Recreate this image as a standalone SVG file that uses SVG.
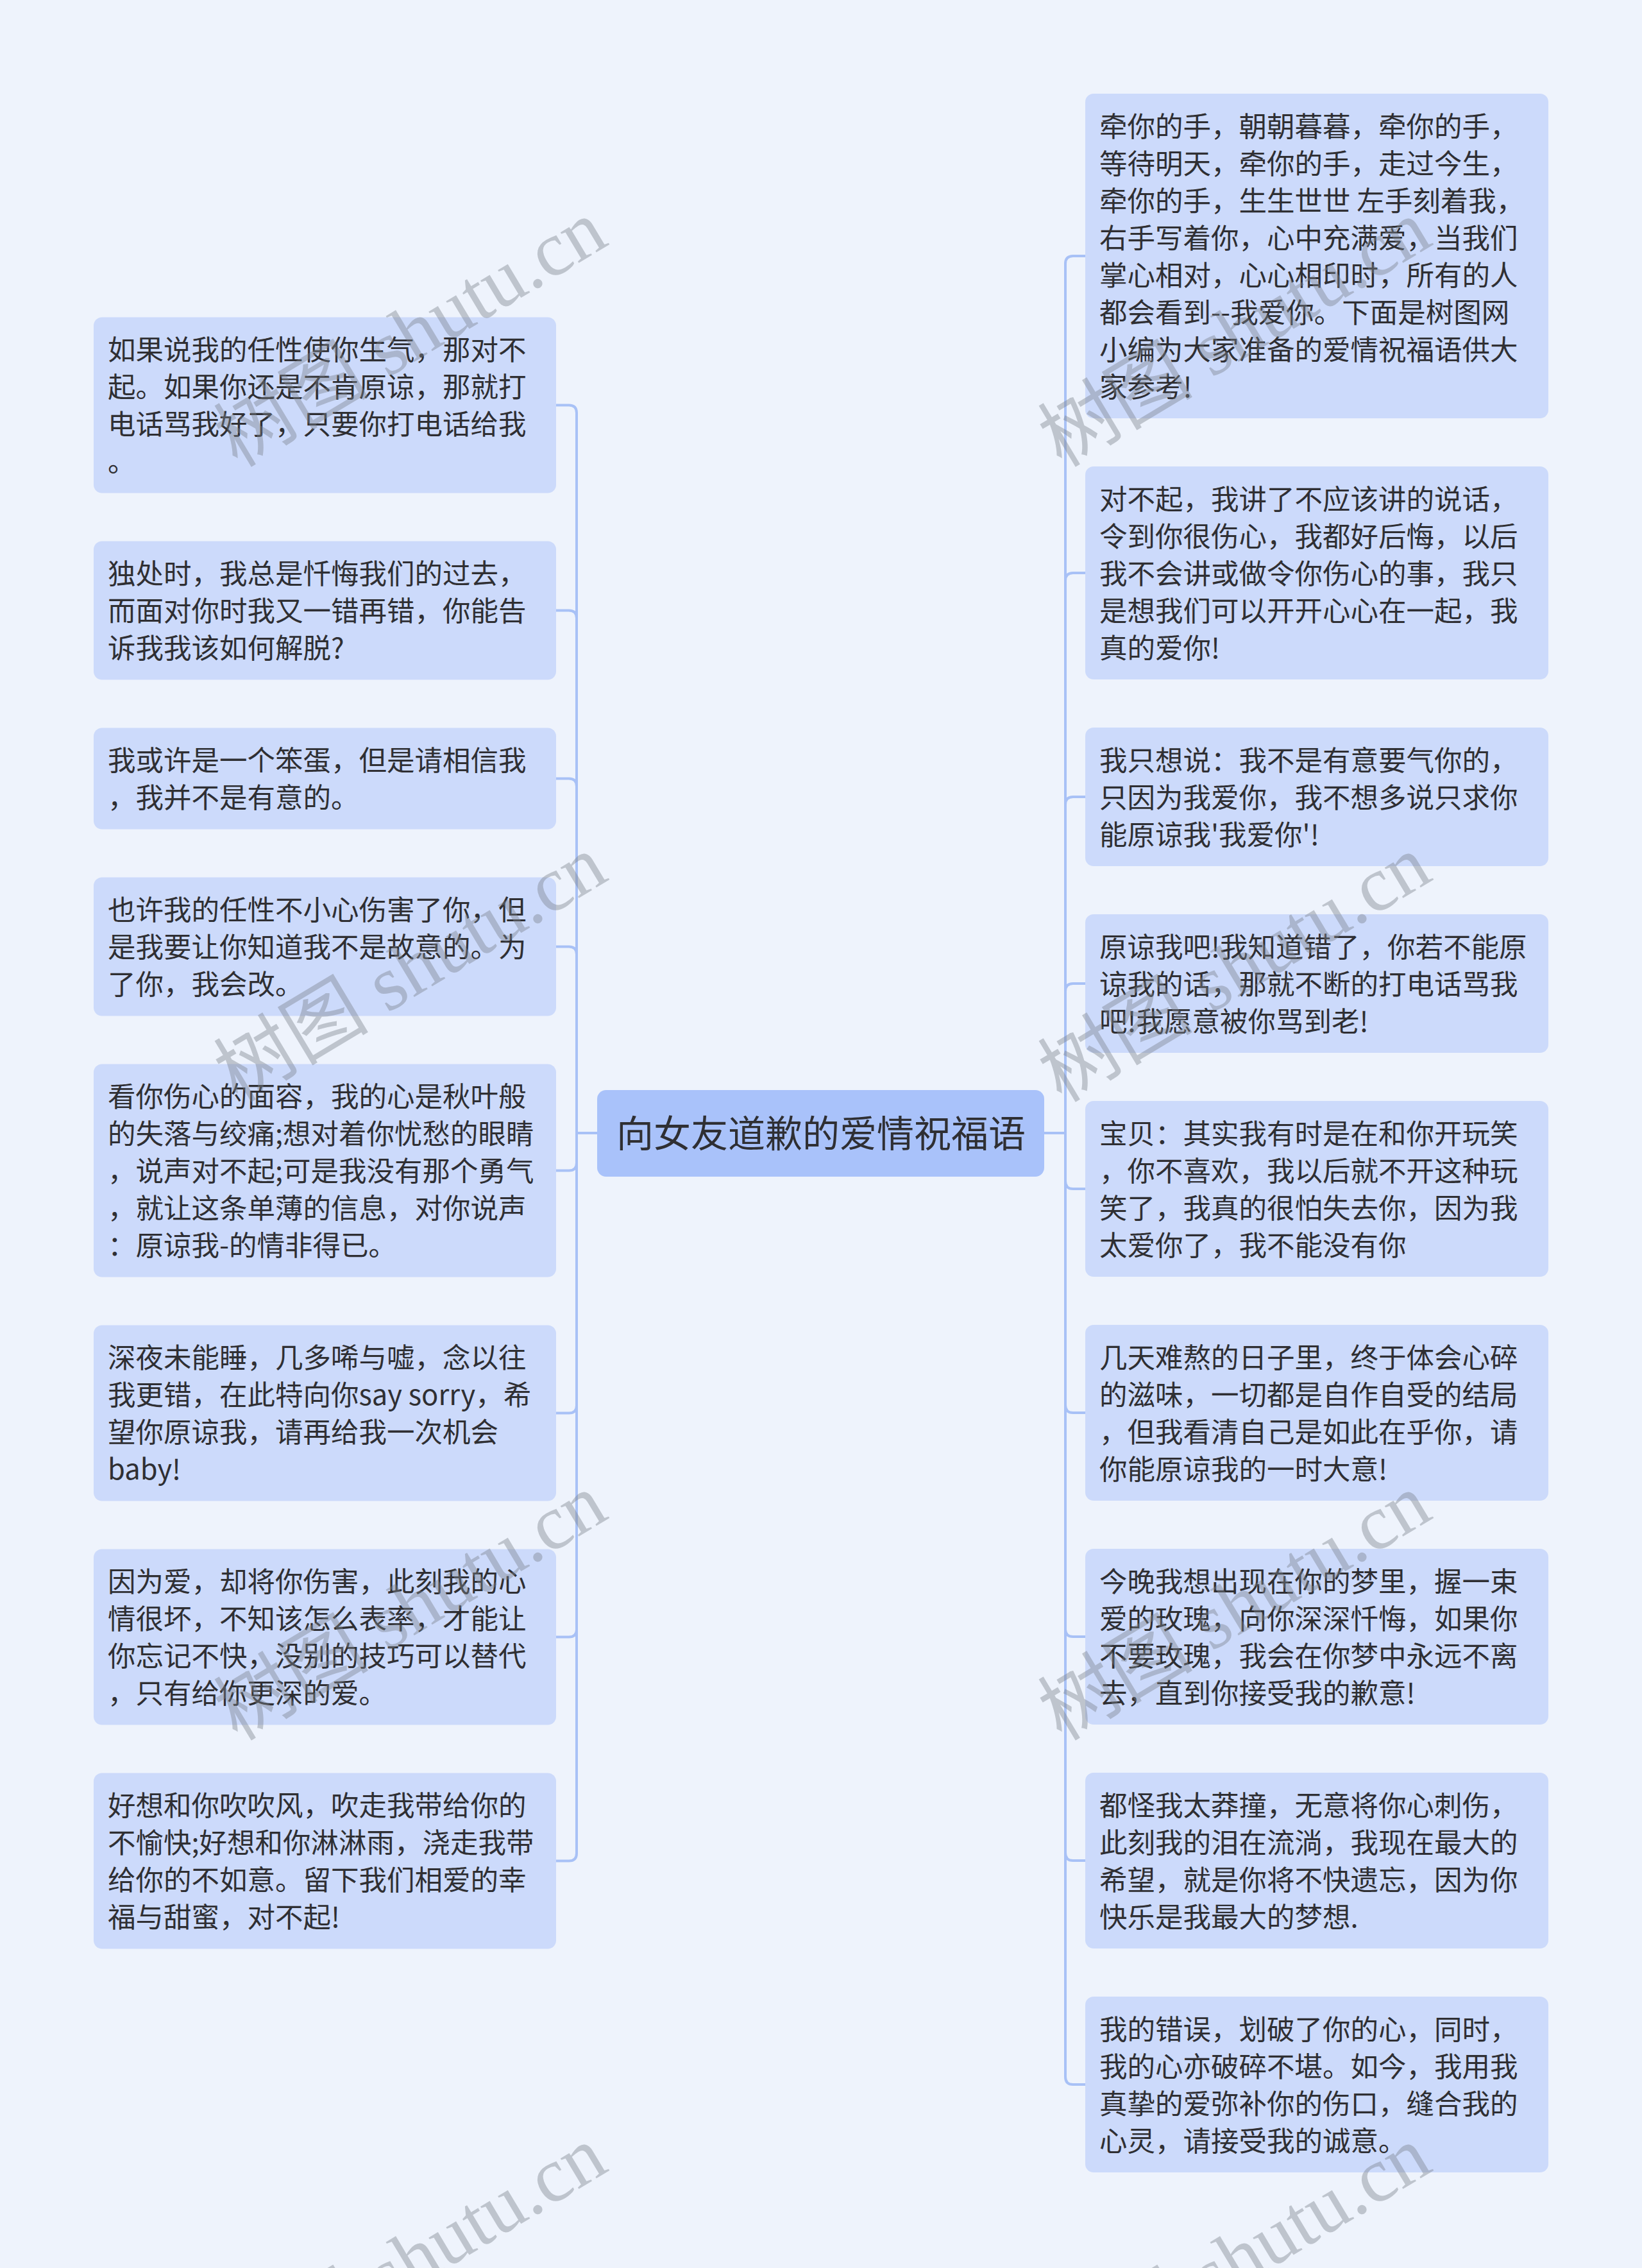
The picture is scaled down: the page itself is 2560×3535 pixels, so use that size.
<svg xmlns="http://www.w3.org/2000/svg" width="2560" height="3535" viewBox="0 0 2560 3535">
<style>
.bg{fill:#eef3fc}
.box{fill:#ccdafb}
.root{fill:#a9c2fa}
.t{font-family:"Noto Sans CJK SC","Noto Sans",sans-serif;font-size:43.5px;fill:#2f2f33}
.rt{font-family:"Noto Sans CJK SC","Noto Sans",sans-serif;font-size:58px;fill:#2f2f33}
.c{fill:none;stroke:#a8c1f6;stroke-width:4}
.wm{font-family:"Liberation Serif","Noto Sans CJK SC",serif;font-size:121px;fill:#7d828c;fill-opacity:0.42}
</style>
<rect class="bg" x="0" y="0" width="2560" height="3535"/>
<g id="connectors">
<path class="c" d="M931 1766H899V643.5Q899 631.5 887 631.5H867"/>
<path class="c" d="M931 1766H899V963.5Q899 951.5 887 951.5H867"/>
<path class="c" d="M931 1766H899V1225.5Q899 1213.5 887 1213.5H867"/>
<path class="c" d="M931 1766H899V1487.5Q899 1475.5 887 1475.5H867"/>
<path class="c" d="M931 1766H899V1812.5Q899 1824.5 887 1824.5H867"/>
<path class="c" d="M931 1766H899V2190.5Q899 2202.5 887 2202.5H867"/>
<path class="c" d="M931 1766H899V2539.5Q899 2551.5 887 2551.5H867"/>
<path class="c" d="M931 1766H899V2888.5Q899 2900.5 887 2900.5H867"/>
<path class="c" d="M1628 1766H1661V411Q1661 399 1673 399H1692"/>
<path class="c" d="M1628 1766H1661V905Q1661 893 1673 893H1692"/>
<path class="c" d="M1628 1766H1661V1254Q1661 1242 1673 1242H1692"/>
<path class="c" d="M1628 1766H1661V1545Q1661 1533 1673 1533H1692"/>
<path class="c" d="M1628 1766H1661V1841Q1661 1853 1673 1853H1692"/>
<path class="c" d="M1628 1766H1661V2190Q1661 2202 1673 2202H1692"/>
<path class="c" d="M1628 1766H1661V2539Q1661 2551 1673 2551H1692"/>
<path class="c" d="M1628 1766H1661V2888Q1661 2900 1673 2900H1692"/>
<path class="c" d="M1628 1766H1661V3237Q1661 3249 1673 3249H1692"/>
</g>
<g id="root">
<rect class="root" x="931" y="1699" width="697" height="135" rx="14"/>
<text class="rt" x="1280" y="1788" text-anchor="middle">向女友道歉的爱情祝福语</text>
</g>
<g id="L1">
<rect class="box" x="146" y="494.5" width="721" height="274" rx="13"/>
<text class="t"><tspan x="168" y="561">如果说我的任性使你生气，那对不</tspan><tspan x="168" y="619">起。如果你还是不肯原谅，那就打</tspan><tspan x="168" y="677">电话骂我好了，只要你打电话给我</tspan><tspan x="168" y="735">。</tspan></text>
</g>
<g id="L2">
<rect class="box" x="146" y="843.5" width="721" height="216" rx="13"/>
<text class="t"><tspan x="168" y="910">独处时，我总是忏悔我们的过去，</tspan><tspan x="168" y="968">而面对你时我又一错再错，你能告</tspan><tspan x="168" y="1026">诉我我该如何解脱?</tspan></text>
</g>
<g id="L3">
<rect class="box" x="146" y="1134.5" width="721" height="158" rx="13"/>
<text class="t"><tspan x="168" y="1201">我或许是一个笨蛋，但是请相信我</tspan><tspan x="168" y="1259">，我并不是有意的。</tspan></text>
</g>
<g id="L4">
<rect class="box" x="146" y="1367.5" width="721" height="216" rx="13"/>
<text class="t"><tspan x="168" y="1434">也许我的任性不小心伤害了你，但</tspan><tspan x="168" y="1492">是我要让你知道我不是故意的。为</tspan><tspan x="168" y="1550">了你，我会改。</tspan></text>
</g>
<g id="L5">
<rect class="box" x="146" y="1658.5" width="721" height="332" rx="13"/>
<text class="t"><tspan x="168" y="1725">看你伤心的面容，我的心是秋叶般</tspan><tspan x="168" y="1783">的失落与绞痛;想对着你忧愁的眼睛</tspan><tspan x="168" y="1841">，说声对不起;可是我没有那个勇气</tspan><tspan x="168" y="1899">，就让这条单薄的信息，对你说声</tspan><tspan x="168" y="1957">：原谅我-的情非得已。</tspan></text>
</g>
<g id="L6">
<rect class="box" x="146" y="2065.5" width="721" height="274" rx="13"/>
<text class="t"><tspan x="168" y="2132">深夜未能睡，几多唏与嘘，念以往</tspan><tspan x="168" y="2190">我更错，在此特向你say sorry，希</tspan><tspan x="168" y="2248">望你原谅我，请再给我一次机会</tspan><tspan x="168" y="2306">baby!</tspan></text>
</g>
<g id="L7">
<rect class="box" x="146" y="2414.5" width="721" height="274" rx="13"/>
<text class="t"><tspan x="168" y="2481">因为爱，却将你伤害，此刻我的心</tspan><tspan x="168" y="2539">情很坏，不知该怎么表率，才能让</tspan><tspan x="168" y="2597">你忘记不快，没别的技巧可以替代</tspan><tspan x="168" y="2655">，只有给你更深的爱。</tspan></text>
</g>
<g id="L8">
<rect class="box" x="146" y="2763.5" width="721" height="274" rx="13"/>
<text class="t"><tspan x="168" y="2830">好想和你吹吹风，吹走我带给你的</tspan><tspan x="168" y="2888">不愉快;好想和你淋淋雨，浇走我带</tspan><tspan x="168" y="2946">给你的不如意。留下我们相爱的幸</tspan><tspan x="168" y="3004">福与甜蜜，对不起!</tspan></text>
</g>
<g id="R1">
<rect class="box" x="1692" y="146" width="722" height="506" rx="13"/>
<text class="t"><tspan x="1714" y="213">牵你的手，朝朝暮暮，牵你的手，</tspan><tspan x="1714" y="271">等待明天，牵你的手，走过今生，</tspan><tspan x="1714" y="329">牵你的手，生生世世 左手刻着我，</tspan><tspan x="1714" y="387">右手写着你，心中充满爱，当我们</tspan><tspan x="1714" y="445">掌心相对，心心相印时，所有的人</tspan><tspan x="1714" y="503">都会看到--我爱你。下面是树图网</tspan><tspan x="1714" y="561">小编为大家准备的爱情祝福语供大</tspan><tspan x="1714" y="619">家参考!</tspan></text>
</g>
<g id="R2">
<rect class="box" x="1692" y="727" width="722" height="332" rx="13"/>
<text class="t"><tspan x="1714" y="794">对不起，我讲了不应该讲的说话，</tspan><tspan x="1714" y="852">令到你很伤心，我都好后悔，以后</tspan><tspan x="1714" y="910">我不会讲或做令你伤心的事，我只</tspan><tspan x="1714" y="968">是想我们可以开开心心在一起，我</tspan><tspan x="1714" y="1026">真的爱你!</tspan></text>
</g>
<g id="R3">
<rect class="box" x="1692" y="1134" width="722" height="216" rx="13"/>
<text class="t"><tspan x="1714" y="1201">我只想说：我不是有意要气你的，</tspan><tspan x="1714" y="1259">只因为我爱你，我不想多说只求你</tspan><tspan x="1714" y="1317">能原谅我'我爱你'!</tspan></text>
</g>
<g id="R4">
<rect class="box" x="1692" y="1425" width="722" height="216" rx="13"/>
<text class="t"><tspan x="1714" y="1492">原谅我吧!我知道错了，你若不能原</tspan><tspan x="1714" y="1550">谅我的话，那就不断的打电话骂我</tspan><tspan x="1714" y="1608">吧!我愿意被你骂到老!</tspan></text>
</g>
<g id="R5">
<rect class="box" x="1692" y="1716" width="722" height="274" rx="13"/>
<text class="t"><tspan x="1714" y="1783">宝贝：其实我有时是在和你开玩笑</tspan><tspan x="1714" y="1841">，你不喜欢，我以后就不开这种玩</tspan><tspan x="1714" y="1899">笑了，我真的很怕失去你，因为我</tspan><tspan x="1714" y="1957">太爱你了，我不能没有你</tspan></text>
</g>
<g id="R6">
<rect class="box" x="1692" y="2065" width="722" height="274" rx="13"/>
<text class="t"><tspan x="1714" y="2132">几天难熬的日子里，终于体会心碎</tspan><tspan x="1714" y="2190">的滋味，一切都是自作自受的结局</tspan><tspan x="1714" y="2248">，但我看清自己是如此在乎你，请</tspan><tspan x="1714" y="2306">你能原谅我的一时大意!</tspan></text>
</g>
<g id="R7">
<rect class="box" x="1692" y="2414" width="722" height="274" rx="13"/>
<text class="t"><tspan x="1714" y="2481">今晚我想出现在你的梦里，握一束</tspan><tspan x="1714" y="2539">爱的玫瑰，向你深深忏悔，如果你</tspan><tspan x="1714" y="2597">不要玫瑰，我会在你梦中永远不离</tspan><tspan x="1714" y="2655">去，直到你接受我的歉意!</tspan></text>
</g>
<g id="R8">
<rect class="box" x="1692" y="2763" width="722" height="274" rx="13"/>
<text class="t"><tspan x="1714" y="2830">都怪我太莽撞，无意将你心刺伤，</tspan><tspan x="1714" y="2888">此刻我的泪在流淌，我现在最大的</tspan><tspan x="1714" y="2946">希望，就是你将不快遗忘，因为你</tspan><tspan x="1714" y="3004">快乐是我最大的梦想.</tspan></text>
</g>
<g id="R9">
<rect class="box" x="1692" y="3112" width="722" height="274" rx="13"/>
<text class="t"><tspan x="1714" y="3179">我的错误，划破了你的心，同时，</tspan><tspan x="1714" y="3237">我的心亦破碎不堪。如今，我用我</tspan><tspan x="1714" y="3295">真挚的爱弥补你的伤口，缝合我的</tspan><tspan x="1714" y="3353">心灵，请接受我的诚意。</tspan></text>
</g>
<g id="watermarks">
<text class="wm" text-anchor="middle" transform="translate(661 555) rotate(-31)">树图 shutu.cn</text>
<text class="wm" text-anchor="middle" transform="translate(661 1545) rotate(-31)">树图 shutu.cn</text>
<text class="wm" text-anchor="middle" transform="translate(661 2540) rotate(-31)">树图 shutu.cn</text>
<text class="wm" text-anchor="middle" transform="translate(661 3557) rotate(-31)">树图 shutu.cn</text>
<text class="wm" text-anchor="middle" transform="translate(1946 555) rotate(-31)">树图 shutu.cn</text>
<text class="wm" text-anchor="middle" transform="translate(1946 1545) rotate(-31)">树图 shutu.cn</text>
<text class="wm" text-anchor="middle" transform="translate(1946 2540) rotate(-31)">树图 shutu.cn</text>
<text class="wm" text-anchor="middle" transform="translate(1946 3557) rotate(-31)">树图 shutu.cn</text>
</g>
</svg>
